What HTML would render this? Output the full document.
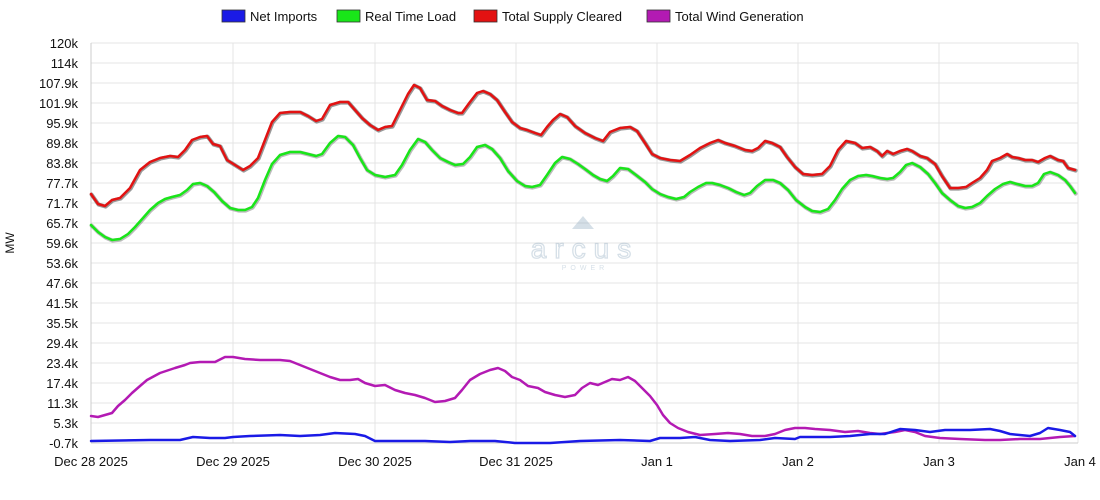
<!DOCTYPE html>
<html><head><meta charset="utf-8"><style>
html,body{margin:0;padding:0;background:#fff;}
svg{display:block;font-family:"Liberation Sans",Arial,sans-serif;}
</style></head><body>
<svg width="1100" height="500" viewBox="0 0 1100 500" xmlns="http://www.w3.org/2000/svg">
<rect width="1100" height="500" fill="#fff"/>
<g stroke="#e4e4e4" stroke-width="1">
<line x1="91" y1="43" x2="1078" y2="43"/><line x1="91" y1="63" x2="1078" y2="63"/><line x1="91" y1="83" x2="1078" y2="83"/><line x1="91" y1="103" x2="1078" y2="103"/><line x1="91" y1="123" x2="1078" y2="123"/><line x1="91" y1="143" x2="1078" y2="143"/><line x1="91" y1="163" x2="1078" y2="163"/><line x1="91" y1="183" x2="1078" y2="183"/><line x1="91" y1="203" x2="1078" y2="203"/><line x1="91" y1="223" x2="1078" y2="223"/><line x1="91" y1="243" x2="1078" y2="243"/><line x1="91" y1="263" x2="1078" y2="263"/><line x1="91" y1="283" x2="1078" y2="283"/><line x1="91" y1="303" x2="1078" y2="303"/><line x1="91" y1="323" x2="1078" y2="323"/><line x1="91" y1="343" x2="1078" y2="343"/><line x1="91" y1="363" x2="1078" y2="363"/><line x1="91" y1="383" x2="1078" y2="383"/><line x1="91" y1="403" x2="1078" y2="403"/><line x1="91" y1="423" x2="1078" y2="423"/>
<line x1="233" y1="43" x2="233" y2="443"/><line x1="375" y1="43" x2="375" y2="443"/><line x1="516" y1="43" x2="516" y2="443"/><line x1="657" y1="43" x2="657" y2="443"/><line x1="798" y1="43" x2="798" y2="443"/><line x1="939" y1="43" x2="939" y2="443"/><line x1="1078" y1="43" x2="1078" y2="443"/>
</g>
<line x1="91" y1="43" x2="91" y2="443" stroke="#ccc"/>
<line x1="91" y1="443" x2="1078" y2="443" stroke="#ccc"/>
<g font-size="13" fill="#111" text-anchor="end">
<text x="78" y="48">120k</text><text x="78" y="68">114k</text><text x="78" y="88">107.9k</text><text x="78" y="108">101.9k</text><text x="78" y="128">95.9k</text><text x="78" y="148">89.8k</text><text x="78" y="168">83.8k</text><text x="78" y="188">77.7k</text><text x="78" y="208">71.7k</text><text x="78" y="228">65.7k</text><text x="78" y="248">59.6k</text><text x="78" y="268">53.6k</text><text x="78" y="288">47.6k</text><text x="78" y="308">41.5k</text><text x="78" y="328">35.5k</text><text x="78" y="348">29.4k</text><text x="78" y="368">23.4k</text><text x="78" y="388">17.4k</text><text x="78" y="408">11.3k</text><text x="78" y="428">5.3k</text><text x="78" y="448">-0.7k</text>
</g>
<g font-size="13" fill="#111" text-anchor="middle">
<text x="91" y="466">Dec 28 2025</text><text x="233" y="466">Dec 29 2025</text><text x="375" y="466">Dec 30 2025</text><text x="516" y="466">Dec 31 2025</text><text x="657" y="466">Jan 1</text><text x="798" y="466">Jan 2</text><text x="939" y="466">Jan 3</text><text x="1080" y="466">Jan 4</text>
</g>
<text x="14" y="243" font-size="12" fill="#111" text-anchor="middle" transform="rotate(-90 14 243)">MW</text>
<g opacity="0.35" fill="#8aa6bd">
<polygon points="583,216 572,229 594,229"/>
<text x="585" y="258" font-size="28" text-anchor="middle" letter-spacing="8" fill="none" stroke="#8aa6bd" stroke-width="1.3">arcus</text>
<text x="585" y="270" font-size="7" text-anchor="middle" letter-spacing="4">POWER</text>
</g>
<g fill="none" stroke-linejoin="round" stroke-linecap="round">
<g stroke="#333" stroke-width="4" opacity="0.5" transform="translate(0.6,0.6)">
<polyline points="91,194 98,204 105,206 112,200 120,198 130,188 140,170 150,162 160,158 170,156 178,157 185,150 192,140 200,137 207,136 213,144 220,146 227,160 235,165 243,170 250,166 258,158 265,140 272,122 280,113 290,112 300,112 308,116 316,121 322,119 330,105 340,102 348,102 355,110 362,118 370,125 378,130 385,127 392,126 400,110 408,94 414,85 420,88 427,100 435,101 442,106 450,110 458,113 462,113 470,102 477,93 483,91 490,94 497,100 505,112 512,122 520,128 527,130 535,133 541,135 547,127 553,120 560,114 567,117 575,126 585,133 595,138 603,141 610,132 620,128 630,127 637,131 645,143 652,154 660,158 670,160 680,161 690,155 700,148 710,143 718,140 725,143 735,146 745,150 752,151 758,148 765,141 772,143 780,147 787,157 795,167 803,174 812,175 822,174 830,166 838,150 846,141 855,143 862,148 870,147 877,151 882,156 887,151 893,154 900,151 907,149 912,151 920,156 927,158 935,164 942,176 950,188 958,188 966,187 972,183 980,178 987,170 992,161 1000,158 1007,154 1012,157 1018,158 1025,160 1032,160 1038,162 1045,158 1050,156 1058,160 1063,161 1068,168 1075,170"/>
</g>
<polyline stroke="#e31212" stroke-width="2.5" points="91,194 98,204 105,206 112,200 120,198 130,188 140,170 150,162 160,158 170,156 178,157 185,150 192,140 200,137 207,136 213,144 220,146 227,160 235,165 243,170 250,166 258,158 265,140 272,122 280,113 290,112 300,112 308,116 316,121 322,119 330,105 340,102 348,102 355,110 362,118 370,125 378,130 385,127 392,126 400,110 408,94 414,85 420,88 427,100 435,101 442,106 450,110 458,113 462,113 470,102 477,93 483,91 490,94 497,100 505,112 512,122 520,128 527,130 535,133 541,135 547,127 553,120 560,114 567,117 575,126 585,133 595,138 603,141 610,132 620,128 630,127 637,131 645,143 652,154 660,158 670,160 680,161 690,155 700,148 710,143 718,140 725,143 735,146 745,150 752,151 758,148 765,141 772,143 780,147 787,157 795,167 803,174 812,175 822,174 830,166 838,150 846,141 855,143 862,148 870,147 877,151 882,156 887,151 893,154 900,151 907,149 912,151 920,156 927,158 935,164 942,176 950,188 958,188 966,187 972,183 980,178 987,170 992,161 1000,158 1007,154 1012,157 1018,158 1025,160 1032,160 1038,162 1045,158 1050,156 1058,160 1063,161 1068,168 1075,170"/>
<polyline stroke="#555" stroke-width="4" opacity="0.4" transform="translate(0.6,0.6)" points="91,225 98,232 105,237 112,240 120,239 128,234 135,227 143,218 150,210 158,203 165,199 172,197 180,195 187,190 193,184 200,183 207,186 214,192 222,201 230,208 238,210 245,210 252,207 258,198 265,180 272,164 280,155 290,152 300,152 308,154 316,156 322,154 330,143 338,136 345,137 353,145 360,158 367,170 375,175 385,177 395,175 402,165 410,150 418,139 425,142 432,150 440,158 448,162 455,165 463,164 470,157 477,147 485,145 492,149 500,158 508,171 517,181 525,186 532,187 540,185 547,175 555,163 562,157 570,159 578,164 585,169 593,175 600,179 607,181 613,176 620,168 628,169 636,175 645,182 652,189 660,194 668,197 676,199 684,197 690,192 698,187 706,183 712,183 720,185 728,188 736,192 744,195 750,193 757,186 765,180 773,180 780,183 788,190 796,200 805,207 812,211 820,212 828,209 835,200 842,189 850,180 858,176 866,175 872,176 880,178 887,179 893,178 900,172 906,165 912,163 920,167 928,174 935,183 942,193 950,200 958,206 965,208 972,207 980,203 987,196 995,189 1003,184 1010,182 1017,184 1025,186 1032,186 1038,183 1044,174 1050,172 1058,175 1065,180 1070,186 1075,193"/>
<polyline stroke="#19e619" stroke-width="2.5" points="91,225 98,232 105,237 112,240 120,239 128,234 135,227 143,218 150,210 158,203 165,199 172,197 180,195 187,190 193,184 200,183 207,186 214,192 222,201 230,208 238,210 245,210 252,207 258,198 265,180 272,164 280,155 290,152 300,152 308,154 316,156 322,154 330,143 338,136 345,137 353,145 360,158 367,170 375,175 385,177 395,175 402,165 410,150 418,139 425,142 432,150 440,158 448,162 455,165 463,164 470,157 477,147 485,145 492,149 500,158 508,171 517,181 525,186 532,187 540,185 547,175 555,163 562,157 570,159 578,164 585,169 593,175 600,179 607,181 613,176 620,168 628,169 636,175 645,182 652,189 660,194 668,197 676,199 684,197 690,192 698,187 706,183 712,183 720,185 728,188 736,192 744,195 750,193 757,186 765,180 773,180 780,183 788,190 796,200 805,207 812,211 820,212 828,209 835,200 842,189 850,180 858,176 866,175 872,176 880,178 887,179 893,178 900,172 906,165 912,163 920,167 928,174 935,183 942,193 950,200 958,206 965,208 972,207 980,203 987,196 995,189 1003,184 1010,182 1017,184 1025,186 1032,186 1038,183 1044,174 1050,172 1058,175 1065,180 1070,186 1075,193"/>
<polyline stroke="#b31ab3" stroke-width="2.5" points="91,416 98,417 105,415 112,413 118,406 125,400 132,393 140,386 147,380 160,373 175,368 185,365 190,363 200,362 215,362 225,357 233,357 245,359 260,360 280,360 290,361 300,365 310,369 320,373 330,377 340,380 350,380 358,379 365,383 375,386 385,385 395,390 405,393 415,395 425,398 435,402 445,401 455,398 462,390 470,380 480,374 490,370 498,368 505,371 512,377 520,380 528,386 538,388 545,392 555,395 565,397 575,395 582,388 590,383 598,385 605,382 612,379 620,380 628,377 635,381 642,388 650,396 657,405 663,415 670,423 678,428 688,432 700,435 715,434 728,433 740,434 752,436 765,436 775,434 785,430 795,428 805,428 815,429 830,430 845,432 858,431 870,433 880,434 895,432 905,430 915,432 925,436 940,438 960,439 985,440 1000,440 1020,439 1040,439 1060,437 1075,436"/>
<polyline stroke="#1a1ae6" stroke-width="2.5" points="91,441 150,440 180,440 193,437 210,438 225,438 233,437 250,436 280,435 300,436 320,435 335,433 355,434 365,436 375,441 400,441 425,441 450,442 470,441 495,441 515,443 550,443 580,441 620,440 650,441 660,438 680,438 695,437 710,440 730,441 760,440 775,438 795,439 800,437 830,437 850,436 870,434 885,434 900,429 915,430 930,432 945,430 970,430 990,429 1000,431 1010,434 1030,436 1040,433 1048,428 1060,430 1070,432 1075,436"/>
</g>
<g font-size="13" fill="#111">
<rect x="222" y="10" width="23" height="12" fill="#1a1ae6" stroke="#333" stroke-width="0.8"/><text x="250" y="21">Net Imports</text>
<rect x="337" y="10" width="23" height="12" fill="#19e619" stroke="#333" stroke-width="0.8"/><text x="365" y="21">Real Time Load</text>
<rect x="474" y="10" width="23" height="12" fill="#e31212" stroke="#333" stroke-width="0.8"/><text x="502" y="21">Total Supply Cleared</text>
<rect x="647" y="10" width="23" height="12" fill="#b31ab3" stroke="#333" stroke-width="0.8"/><text x="675" y="21">Total Wind Generation</text>
</g>
</svg>
</body></html>
